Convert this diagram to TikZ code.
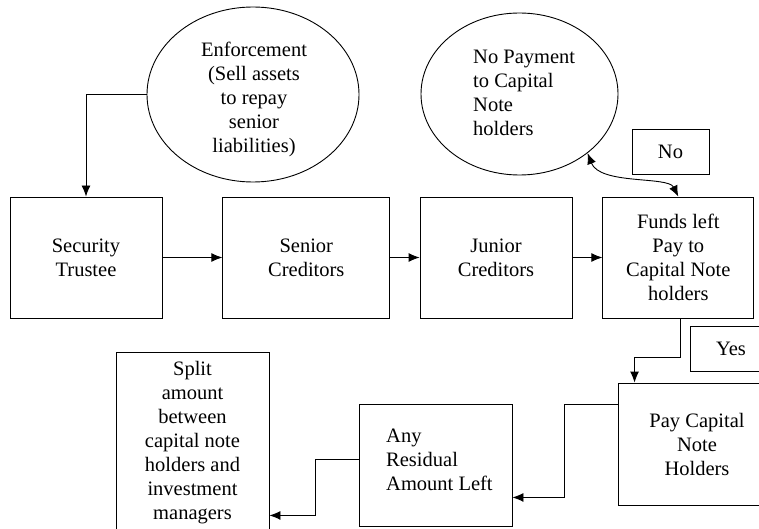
\documentclass[tikz,border=0pt]{standalone}
\usepackage{fontspec}
\setmainfont{Liberation Serif}
\usetikzlibrary{shapes.geometric,arrows.meta,calc}
\newcommand\fsz{\fontsize{20.5}{24}\selectfont}
\tikzset{
  box/.style={draw, line width=0.9pt, rectangle, inner sep=0pt, align=center, font=\fsz},
  oval/.style={draw, line width=0.9pt, ellipse, inner sep=0pt},
  txt/.style={inner sep=0pt, font=\fsz},
  arr/.style={-{Latex[length=11pt,width=9pt]}, line width=0.9pt},
  darr/.style={{Latex[length=11pt,width=9pt]}-{Latex[length=11pt,width=9pt]}, line width=0.9pt}
}
\begin{document}
\begin{tikzpicture}[x=1pt,y=-1pt]
\clip (0,0) rectangle (759,529);
\fill[white] (0,0) rectangle (759,529);
% ellipses
\node[oval, minimum width=212pt, minimum height=175pt] (enf) at (253,94.5) {};
\node[txt, align=center] (enft) at (254,99.5) {Enforcement\\(Sell assets\\to repay\\senior\\liabilities)};
\node[oval, minimum width=197pt, minimum height=162pt] (nop) at (519.5,94) {};
\node[txt, align=left, anchor=west] (nopt) at (473,93) {No Payment\\to Capital\\Note\\holders};
% small label boxes
\node[box, minimum width=77pt, minimum height=45pt] (no) at (670.5,151.5) {No};
\node[box, minimum width=82pt, minimum height=45pt] (yes) at (731,348.5) {Yes};
% top row
\node[box, minimum width=152pt, minimum height=121pt] (st) at (86,257.5) {Security\\Trustee};
\node[box, minimum width=167pt, minimum height=121pt] (sc) at (306.3,257.5) {Senior\\Creditors};
\node[box, minimum width=152pt, minimum height=121pt] (jc) at (496,257.5) {Junior\\Creditors};
\node[box, minimum width=151pt, minimum height=121pt] (fl) at (678.3,257.5) {Funds left\\Pay to\\Capital Note\\holders};
% bottom row
\node[box, minimum width=158pt, minimum height=122pt] (pc) at (697,444) {Pay Capital\\Note\\Holders};
\node[box, minimum width=153pt, minimum height=122pt] (ar) at (435.5,465) {};
\node[txt, align=left, anchor=west] (art) at (386,460) {Any\\Residual\\Amount Left};
\node[box, minimum width=153pt, minimum height=181pt] (sp) at (192.5,442.5) {Split\\amount\\between\\capital note\\holders and\\investment\\managers};
% connectors
\draw[arr] (enf.west) -| (st.north);
\draw[arr] (st.east) -- (sc.west);
\draw[arr] (sc.east) -- (jc.west);
\draw[arr] (jc.east) -- (fl.west);
\draw[darr] (nop.-41) .. controls (600,185) and (668,176) .. (fl.north);
\draw[arr] ([xshift=2pt]fl.south) -- ++(0,39) -| ([xshift=17pt]pc.north west);
\draw[arr] ([yshift=-22pt]pc.north west) -- ++(-53,0) |- ([yshift=29pt]ar.south east);
\draw[arr] ([yshift=6pt]ar.west) -- ++(-43,0) |- ([yshift=11pt]sp.east |- ar.south);
\end{tikzpicture}
\end{document}
